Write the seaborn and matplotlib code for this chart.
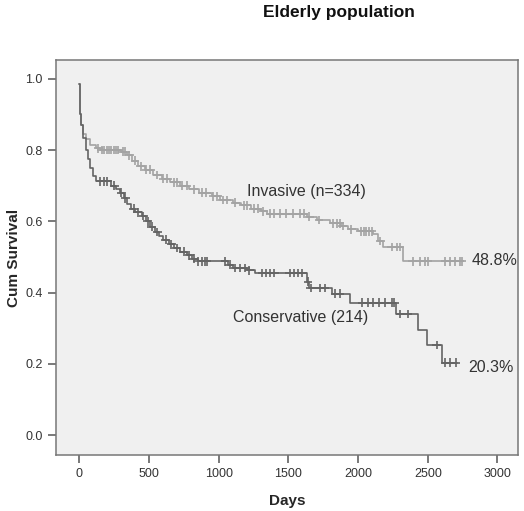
import numpy as np
import pandas as pd
import seaborn as sns
import matplotlib.pyplot as plt

# Kaplan-Meier step values (day, survival after step)
inv_days = [0, 3, 8, 15, 30, 50, 80, 120, 150, 300, 340, 380, 420, 470, 530, 590,
            650, 720, 790, 860, 950, 1010, 1100, 1160, 1230, 1300, 1350, 1630, 1705,
            1800, 1880, 1930, 2000, 2110, 2140, 2180, 2325, 2750]
inv_surv = [0.985, 0.95, 0.90, 0.87, 0.845, 0.83, 0.815, 0.805, 0.80, 0.795, 0.785,
            0.77, 0.755, 0.745, 0.73, 0.72, 0.71, 0.70, 0.69, 0.68, 0.67, 0.66, 0.652,
            0.645, 0.636, 0.628, 0.622, 0.613, 0.604, 0.595, 0.587, 0.578, 0.572,
            0.565, 0.545, 0.528, 0.488, 0.488]

con_days = [0, 3, 8, 15, 30, 45, 60, 80, 100, 120, 230, 260, 290, 320, 345, 370, 400,
            450, 480, 510, 540, 570, 600, 640, 680, 720, 770, 810, 850, 1065, 1100,
            1200, 1260, 1630, 1650, 1810, 1945, 2270, 2430, 2495, 2600, 2710]
con_surv = [0.985, 0.95, 0.90, 0.87, 0.835, 0.80, 0.775, 0.75, 0.728, 0.712, 0.70,
            0.69, 0.68, 0.665, 0.65, 0.635, 0.625, 0.615, 0.60, 0.585, 0.57, 0.558,
            0.548, 0.535, 0.525, 0.515, 0.505, 0.495, 0.488, 0.478, 0.469, 0.462,
            0.455, 0.43, 0.413, 0.397, 0.372, 0.34, 0.295, 0.253, 0.203, 0.203]

# censored observations (days)
inv_cens = [135, 160, 180, 200, 215, 230, 250, 265, 280, 310, 330, 360, 400, 440,
            480, 510, 560, 600, 630, 680, 700, 740, 770, 820, 880, 910, 960, 990,
            1030, 1060, 1120, 1180, 1200, 1250, 1280, 1320, 1370, 1400, 1440, 1480,
            1530, 1580, 1610, 1650, 1720, 1820, 1850, 1870, 1890, 1950, 2020, 2040,
            2060, 2080, 2100, 2160, 2240, 2278, 2300, 2393, 2443, 2480, 2500, 2623,
            2660, 2695, 2730, 2745]
con_cens = [150, 175, 200, 250, 300, 330, 390, 420, 460, 490, 520, 560, 620, 660,
            700, 750, 790, 820, 850, 880, 900, 915, 1045, 1080, 1120, 1150, 1190,
            1220, 1310, 1340, 1370, 1400, 1510, 1540, 1570, 1600, 1640, 1660, 1725,
            1760, 1835, 1870, 2030, 2070, 2110, 2150, 2190, 2240, 2260, 2300, 2357,
            2565, 2625, 2660, 2700]

inv_color = '#a3a3a3'
con_color = '#646464'

sns.set_theme(style='ticks')
plt.rcParams['font.family'] = ['Liberation Sans', 'DejaVu Sans']

fig = plt.figure(figsize=(5.24, 5.11), dpi=100)
ax = fig.add_axes([0.1069, 0.1096, 0.8816, 0.773])
ax.set_facecolor('#f0f0f0')

curves = pd.concat([
    pd.DataFrame({'day': inv_days, 'surv': inv_surv, 'group': 'Invasive'}),
    pd.DataFrame({'day': con_days, 'surv': con_surv, 'group': 'Conservative'}),
])
palette = {'Invasive': inv_color, 'Conservative': con_color}
sns.lineplot(data=curves, x='day', y='surv', hue='group', palette=palette,
             drawstyle='steps-post', linewidth=1.2, legend=False, ax=ax,
             estimator=None, sort=False)

def surv_at(days, surv, t):
    idx = np.searchsorted(days, t, side='right') - 1
    return np.array(surv)[idx]

cens = pd.concat([
    pd.DataFrame({'day': inv_cens, 'surv': surv_at(inv_days, inv_surv, inv_cens),
                  'group': 'Invasive'}),
    pd.DataFrame({'day': con_cens, 'surv': surv_at(con_days, con_surv, con_cens),
                  'group': 'Conservative'}),
])
sns.scatterplot(data=cens, x='day', y='surv', hue='group', palette=palette,
                marker='+', s=40, linewidth=1.2, legend=False, ax=ax)

ax.set_xlim(-167, 3147)
ax.set_ylim(-0.056, 1.053)
ax.set_xticks([0, 500, 1000, 1500, 2000, 2500, 3000])
ax.set_yticks([0.0, 0.2, 0.4, 0.6, 0.8, 1.0])
ax.set_yticklabels(['0.0', '0.2', '0.4', '0.6', '0.8', '1.0'])
ax.tick_params(labelsize=9, colors='#555555', labelcolor='#333333', length=6, width=1.1)
for sp in ax.spines.values():
    sp.set_visible(True)
    sp.set_color('#777777')
    sp.set_linewidth(1.1)

ax.set_xlabel('Days', fontsize=11, fontweight='bold', labelpad=10)
ax.set_ylabel('Cum Survival', fontsize=11, fontweight='bold', labelpad=3)

ax.text(1203, 0.683, 'Invasive (n=334)', fontsize=11.5, color='#333333', va='center')
ax.text(1103, 0.33, 'Conservative (214)', fontsize=11.5, color='#333333', va='center')
ax.text(2816, 0.489, '48.8%', fontsize=11.5, color='#333333', va='center')
ax.text(2788, 0.19, '20.3%', fontsize=11.5, color='#333333', va='center')

fig.text(0.647, 0.976, 'Elderly population', fontsize=12.5, fontweight='bold',
         ha='center', va='center', color='#111111')

fig.savefig('out.png', dpi=100)
